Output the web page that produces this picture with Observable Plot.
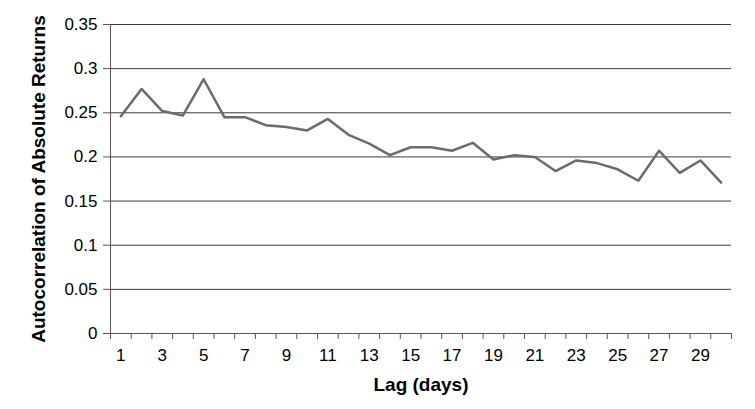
<!DOCTYPE html>
<html>
<head>
<meta charset="utf-8">
<script src="https://cdn.jsdelivr.net/npm/d3@7"></script>
<script src="https://cdn.jsdelivr.net/npm/@observablehq/plot@0.6"></script>
<style>
  html, body { margin: 0; padding: 0; background: white; }
</style>
</head>
<body>
<div id="chart"></div>
<script>
const lags = [1,2,3,4,5,6,7,8,9,10,11,12,13,14,15,16,17,18,19,20,21,22,23,24,25,26,27,28,29,30];
const acf = [0.246,0.277,0.252,0.247,0.288,0.245,0.245,0.236,0.234,0.230,
             0.243,0.225,0.215,0.202,0.211,0.211,0.207,0.216,0.197,0.202,
             0.200,0.184,0.196,0.193,0.186,0.173,0.207,0.182,0.196,0.171];
const yTicks = [0,0.05,0.1,0.15,0.2,0.25,0.3,0.35];
const yTickLabels = ["0","0.05","0.1","0.15","0.2","0.25","0.3","0.35"];
const xLabelTicks = [1,3,5,7,9,11,13,15,17,19,21,23,25,27,29];
const xTitle = "Lag (days)";
const yTitle = "Autocorrelation of Absolute Returns";

const boundaries = lags.map(d => d - 0.5).concat([lags[lags.length - 1] + 0.5]);

const chart = Plot.plot({
  width: 755,
  height: 409,
  marginLeft: 110,
  marginRight: 24,
  marginTop: 24,
  marginBottom: 76,
  x: {domain: [0.5, 30.5]},
  y: {domain: [0, 0.35]},
  style: {
    fontFamily: "'Liberation Sans', Arial, Helvetica, sans-serif",
    background: "white",
    color: "black"
  },
  marks: [
    Plot.gridY(yTicks.filter(d => d > 0), {stroke: "#3c3c3c", strokeOpacity: 1, strokeWidth: 1}),
    Plot.ruleY([0], {stroke: "#555"}),
    Plot.ruleX([0.5], {stroke: "#555"}),
    Plot.axisY(yTicks, {tickSize: 7, tickFormat: () => "", label: null, stroke: "#555"}),
    Plot.text(yTicks, {y: d => d, frameAnchor: "left", dx: -13, textAnchor: "end", lineAnchor: "middle",
      text: d => yTickLabels[yTicks.indexOf(d)], fontSize: 17, fill: "black"}),
    Plot.axisX(boundaries, {tickSize: 6, tickFormat: () => "", label: null, stroke: "#555"}),
    Plot.text(xLabelTicks, {x: d => d, frameAnchor: "bottom", dy: 22, lineAnchor: "middle",
      text: d => String(d), fontSize: 17, fill: "black"}),
    Plot.lineY(acf, {x: (d, i) => lags[i], y: d => d, stroke: "#6b6b6b", strokeWidth: 2.5}),
    Plot.text([xTitle], {frameAnchor: "bottom", dy: 51, fontWeight: "bold", fontSize: 19, lineAnchor: "middle", fill: "black"}),
    Plot.text([yTitle], {frameAnchor: "left", dx: -72, rotate: -90, fontWeight: "bold", fontSize: 19, textAnchor: "middle", lineAnchor: "middle", fill: "black"})
  ]
});
document.getElementById("chart").appendChild(chart);
</script>
</body>
</html>
